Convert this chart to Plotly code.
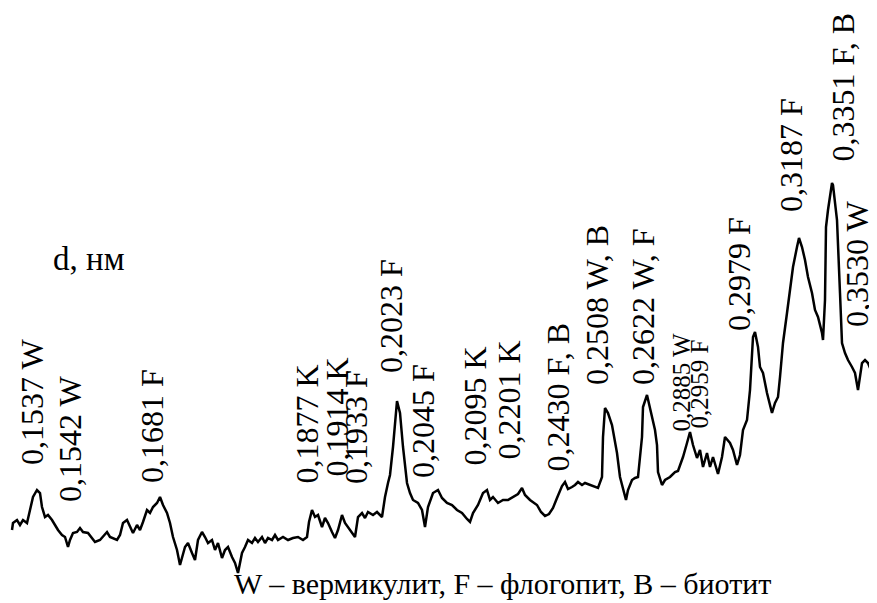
import plotly.graph_objects as go

# Diffractogram trace (scan position, intensity in arbitrary units)
scan_pos = [12, 13, 17, 20, 23, 27, 30, 33, 37, 40, 42, 45, 48, 52, 55, 58, 62, 65, 68, 70,
            73, 77, 80, 83, 88, 92, 95, 100, 103, 107, 110, 113, 117, 120, 123, 127, 130, 133, 137, 140,
            143, 147, 150, 153, 157, 160, 163, 167, 170, 173, 177, 180, 185, 188, 192, 195, 198, 202, 205, 208,
            212, 215, 218, 222, 225, 228, 232, 235, 238, 242, 245, 248, 252, 255, 258, 262, 265, 268, 272, 275,
            278, 283, 288, 293, 298, 303, 307, 309, 312, 315, 318, 322, 325, 328, 332, 335, 338, 342, 345, 348,
            352, 355, 358, 362, 365, 368, 373, 377, 382, 385, 388, 390, 393, 395, 397, 400, 403, 407, 410, 413,
            418, 422, 425, 428, 433, 438, 442, 447, 452, 457, 462, 467, 470, 473, 478, 483, 487, 490, 493, 498,
            503, 508, 513, 518, 522, 525, 530, 537, 541, 545, 549, 553, 557, 562, 565, 568, 572, 575, 578, 582,
            585, 590, 595, 598, 602, 603, 605, 608, 612, 615, 617, 620, 623, 626, 628, 632, 635, 638, 642, 643,
            647, 650, 653, 655, 657, 658, 662, 665, 670, 675, 678, 683, 687, 690, 693, 697, 700, 703, 707, 710,
            713, 718, 722, 725, 730, 733, 737, 740, 743, 747, 750, 753, 755, 758, 760, 763, 767, 772, 775, 778,
            780, 783, 787, 790, 793, 797, 799, 802, 805, 808, 812, 815, 818, 822, 823, 825, 826, 828, 832, 833,
            837, 840, 842, 845, 848, 852, 855, 858, 862, 865, 868, 872, 877]

intensity = [50, 57, 60, 55, 60, 57, 70, 83, 90, 87, 73, 63, 65, 60, 55, 50, 45, 43, 33, 40,
             47, 48, 52, 48, 47, 42, 38, 40, 43, 48, 43, 42, 40, 45, 57, 60, 53, 47, 55, 50,
             58, 70, 67, 73, 77, 83, 75, 67, 57, 43, 30, 15, 33, 37, 27, 20, 40, 48, 43, 37,
             40, 30, 37, 22, 30, 33, 23, 17, 7, 27, 33, 40, 37, 42, 38, 43, 37, 42, 40, 45,
             40, 43, 40, 42, 43, 40, 43, 58, 70, 63, 65, 53, 62, 57, 48, 42, 50, 65, 57, 53,
             48, 43, 63, 67, 62, 68, 65, 68, 63, 83, 97, 105, 133, 160, 179, 167, 133, 97, 87, 80,
             77, 70, 53, 73, 87, 90, 82, 77, 75, 70, 67, 61, 58, 67, 75, 87, 90, 80, 83, 77,
             80, 80, 83, 86, 92, 85, 80, 75, 68, 64, 66, 72, 82, 94, 98, 91, 93, 95, 98, 95,
             97, 95, 93, 92, 103, 143, 172, 167, 155, 140, 127, 103, 92, 80, 90, 100, 102, 103, 143, 173,
             185, 173, 160, 150, 135, 108, 95, 100, 103, 108, 109, 123, 137, 148, 135, 122, 130, 113, 127, 113,
             123, 106, 123, 143, 137, 130, 115, 125, 150, 160, 190, 243, 248, 233, 213, 207, 187, 167, 177, 183,
             203, 237, 267, 293, 313, 333, 342, 333, 320, 303, 287, 270, 263, 247, 240, 280, 353, 370, 397, 395,
             360, 287, 237, 227, 220, 213, 207, 190, 217, 220, 217, 207, 177]

# Peak labels (interplanar distance d, nm, and phase)
peak_labels = ["0,1537 W", "0,1542 W", "0,1681 F", "0,1877 K", "0,1914 K", "0,1933 F",
               "0,2023 F", "0,2045 F", "0,2095 K", "0,2201 K", "0,2430 F, B", "0,2508 W, B",
               "0,2622 W, F", "0,2885 W", "0,2959 F", "0,2979 F", "0,3187 F", "0,3351 F, B",
               "0,3530 W"]

axis_title = "d, нм"
legend_caption = "W – вермикулит, F – флогопит, B – биотит"

# layout: label anchor (x center, bottom of text) in axis units, font size
label_x = [32, 70, 152, 306, 336, 356, 391, 423, 474, 508, 557, 597, 643, 681, 699, 739, 791, 842, 857]
label_bottom = [114, 77, 96, 95, 102, 95, 206, 101, 113, 119, 107, 194, 194, 147, 150, 248, 367, 417, 252]
label_size = [32, 32, 32, 32, 32, 32, 32, 32, 32, 32, 32, 32, 32, 25, 25, 32, 32, 32, 32]

FONT = "Liberation Serif, Times New Roman, serif"

fig = go.Figure()
fig.add_trace(go.Scatter(x=scan_pos, y=intensity, mode="lines",
                         line=dict(color="black", width=2.5), hoverinfo="skip"))

for txt, lx, lb, fs in zip(peak_labels, label_x, label_bottom, label_size):
    fig.add_annotation(x=lx, y=lb, xref="x", yref="y", text=txt, textangle=-90,
                       showarrow=False, xanchor="center", yanchor="bottom",
                       borderpad=0, font=dict(family=FONT, size=fs, color="black"))

fig.add_annotation(x=51, y=321, xref="x", yref="y", text=axis_title, showarrow=False,
                   xanchor="left", yanchor="middle",
                   font=dict(family=FONT, size=33, color="black"))

fig.add_annotation(x=502, y=-3, xref="x", yref="y", text=legend_caption, showarrow=False,
                   xanchor="center", yanchor="middle",
                   font=dict(family=FONT, size=30, color="black"))

# the page body has an 8px margin: the figure is sized so its area maps onto page pixels 8..877 / 8..603
fig.update_layout(
    width=869, height=595,
    margin=dict(l=0, r=0, t=0, b=0),
    paper_bgcolor="white", plot_bgcolor="white",
    showlegend=False,
    xaxis=dict(range=[8, 877], visible=False, fixedrange=True),
    yaxis=dict(range=[-23, 572], visible=False, fixedrange=True),
)

fig.write_html("out.html", config={"displayModeBar": False})
